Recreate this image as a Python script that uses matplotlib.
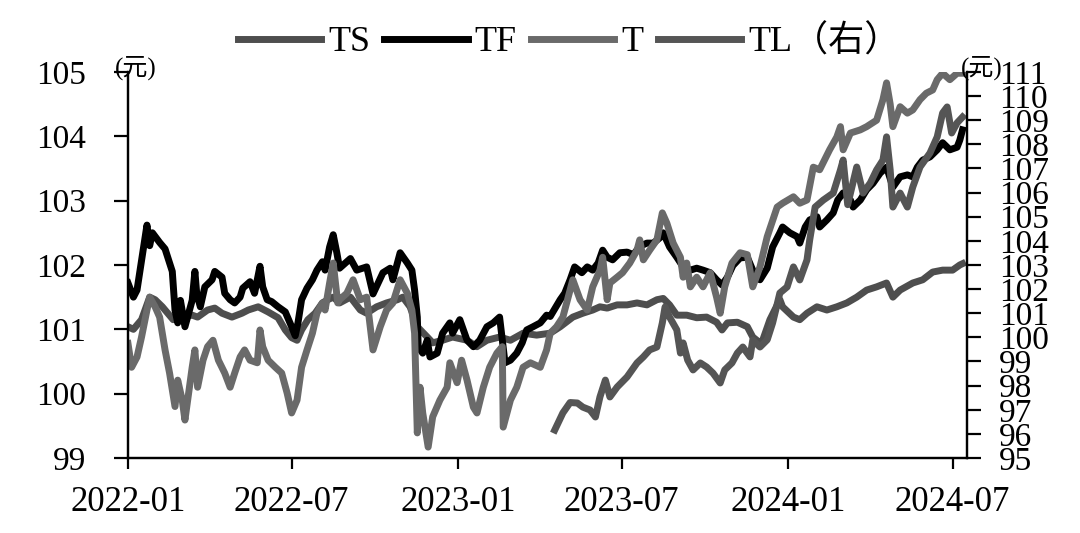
import matplotlib
matplotlib.use('Agg')
import matplotlib.pyplot as plt
import matplotlib.dates as mdates
import pandas as pd

plt.rcParams['font.family'] = ['Liberation Serif', 'Noto Sans CJK SC']

# TS (2-year), left axis
ts_dates = ['2022-01-01', '2022-01-07', '2022-01-16', '2022-01-25', '2022-01-31', '2022-02-08', '2022-02-14',
            '2022-02-20', '2022-03-02', '2022-03-13', '2022-03-19', '2022-03-30', '2022-04-07', '2022-04-15',
            '2022-04-26', '2022-05-07', '2022-05-14', '2022-05-25', '2022-06-05', '2022-06-16', '2022-06-24',
            '2022-07-01', '2022-07-07', '2022-07-12', '2022-07-19', '2022-07-27', '2022-08-04', '2022-08-10',
            '2022-08-16', '2022-08-23', '2022-09-04', '2022-09-15', '2022-09-22', '2022-10-03', '2022-10-14',
            '2022-10-26', '2022-11-01', '2022-11-09', '2022-11-17', '2022-11-28', '2022-12-04', '2022-12-15',
            '2022-12-26', '2023-01-11', '2023-01-22', '2023-02-02', '2023-02-16', '2023-02-28', '2023-03-14',
            '2023-03-29', '2023-04-13', '2023-04-24', '2023-05-08', '2023-05-19', '2023-05-30', '2023-06-07',
            '2023-06-15', '2023-06-26', '2023-07-07', '2023-07-18', '2023-07-29', '2023-08-09', '2023-08-16',
            '2023-08-23', '2023-08-31', '2023-09-11', '2023-09-22', '2023-10-03', '2023-10-14', '2023-10-20',
            '2023-10-26', '2023-11-06', '2023-11-17', '2023-11-23', '2023-12-01', '2023-12-04', '2023-12-12',
            '2023-12-23', '2023-12-26', '2024-01-07', '2024-01-14', '2024-01-22', '2024-02-02', '2024-02-13',
            '2024-02-24', '2024-03-06', '2024-03-17', '2024-03-28', '2024-04-08', '2024-04-19', '2024-04-26',
            '2024-05-04', '2024-05-18', '2024-05-29', '2024-06-09', '2024-06-20', '2024-07-01', '2024-07-09',
            '2024-07-12']
ts_vals = [101.04, 101.00, 101.15, 101.50, 101.46, 101.35, 101.25,
           101.15, 101.19, 101.22, 101.19, 101.30, 101.33, 101.25,
           101.19, 101.25, 101.30, 101.35, 101.27, 101.18, 100.99,
           100.87, 100.83, 100.99, 101.15, 101.25, 101.41, 101.46,
           101.50, 101.41, 101.50, 101.30, 101.25, 101.35, 101.41,
           101.46, 101.50, 101.35, 101.04, 100.88, 100.79, 100.83,
           100.88, 100.83, 100.73, 100.83, 100.88, 100.83, 100.94,
           100.91, 100.94, 101.04, 101.19, 101.25, 101.30, 101.35,
           101.33, 101.38, 101.38, 101.41, 101.38, 101.46, 101.48,
           101.38, 101.22, 101.22, 101.18, 101.19, 101.11, 100.99,
           101.10, 101.11, 101.04, 100.88, 100.79, 100.83, 101.15,
           101.46, 101.35, 101.19, 101.15, 101.25, 101.35, 101.30,
           101.35, 101.41, 101.50, 101.61, 101.66, 101.72, 101.50,
           101.61, 101.72, 101.77, 101.89, 101.92, 101.92, 102.00,
           102.02]

# TF (5-year), left axis
tf_dates = ['2022-01-01', '2022-01-07', '2022-01-11', '2022-01-20', '2022-01-22', '2022-01-25', '2022-01-28',
            '2022-02-05', '2022-02-11', '2022-02-19', '2022-02-22', '2022-02-25', '2022-02-28', '2022-03-05',
            '2022-03-13', '2022-03-16', '2022-03-18', '2022-03-22', '2022-03-27', '2022-04-04', '2022-04-07',
            '2022-04-15', '2022-04-18', '2022-04-24', '2022-04-29', '2022-05-05', '2022-05-08', '2022-05-16',
            '2022-05-21', '2022-05-27', '2022-05-30', '2022-06-04', '2022-06-09', '2022-06-16', '2022-06-24',
            '2022-07-01', '2022-07-05', '2022-07-08', '2022-07-12', '2022-07-18', '2022-07-24', '2022-07-29',
            '2022-08-04', '2022-08-07', '2022-08-12', '2022-08-16', '2022-08-20', '2022-08-23', '2022-09-04',
            '2022-09-11', '2022-09-22', '2022-09-29', '2022-10-10', '2022-10-18', '2022-10-21', '2022-10-29',
            '2022-11-06', '2022-11-11', '2022-11-14', '2022-11-17', '2022-11-18', '2022-11-23', '2022-11-28',
            '2022-12-01', '2022-12-09', '2022-12-15', '2022-12-23', '2022-12-26', '2023-01-03', '2023-01-11',
            '2023-01-18', '2023-01-25', '2023-02-02', '2023-02-09', '2023-02-16', '2023-02-19', '2023-02-22',
            '2023-02-28', '2023-03-07', '2023-03-13', '2023-03-18', '2023-03-25', '2023-04-02', '2023-04-09',
            '2023-04-13', '2023-04-24', '2023-04-29', '2023-05-05', '2023-05-10', '2023-05-18', '2023-05-24',
            '2023-05-30', '2023-06-05', '2023-06-10', '2023-06-15', '2023-06-21', '2023-06-29', '2023-07-07',
            '2023-07-14', '2023-07-21', '2023-07-29', '2023-08-05', '2023-08-12', '2023-08-16', '2023-08-23',
            '2023-08-31', '2023-09-07', '2023-09-15', '2023-09-22', '2023-09-29', '2023-10-07', '2023-10-14',
            '2023-10-20', '2023-10-26', '2023-11-01', '2023-11-09', '2023-11-17', '2023-11-23', '2023-12-01',
            '2023-12-09', '2023-12-15', '2023-12-23', '2023-12-26', '2024-01-03', '2024-01-11', '2024-01-14',
            '2024-01-20', '2024-01-25', '2024-02-02', '2024-02-05', '2024-02-13', '2024-02-20', '2024-02-25',
            '2024-03-02', '2024-03-10', '2024-03-13', '2024-03-21', '2024-03-28', '2024-04-04', '2024-04-12',
            '2024-04-19', '2024-04-26', '2024-05-04', '2024-05-12', '2024-05-18', '2024-05-23', '2024-05-29',
            '2024-06-06', '2024-06-14', '2024-06-20', '2024-06-28', '2024-07-06', '2024-07-09', '2024-07-12']
tf_vals = [101.72, 101.50, 101.61, 102.44, 102.62, 102.30, 102.50,
           102.35, 102.25, 101.90, 101.30, 101.10, 101.45, 101.04,
           101.45, 101.90, 101.56, 101.35, 101.66, 101.77, 101.90,
           101.81, 101.56, 101.46, 101.41, 101.50, 101.64, 101.74,
           101.56, 101.98, 101.66, 101.46, 101.43, 101.35, 101.27,
           101.04, 100.90, 101.10, 101.46, 101.64, 101.77, 101.92,
           102.05, 101.92, 102.28, 102.47, 102.19, 101.95, 102.10,
           101.92, 101.97, 101.55, 101.88, 101.95, 101.77, 102.19,
           102.03, 101.92, 101.61, 101.19, 100.73, 100.63, 100.83,
           100.57, 100.63, 100.94, 101.10, 100.94, 101.15, 100.83,
           100.73, 100.83, 101.04, 101.10, 101.19, 100.83, 100.48,
           100.52, 100.63, 100.79, 100.99, 101.04, 101.10, 101.22,
           101.20, 101.46, 101.56, 101.77, 101.97, 101.88, 101.97,
           101.92, 102.03, 102.23, 102.12, 102.08, 102.19, 102.20,
           102.16, 102.29, 102.34, 102.34, 102.42, 102.50, 102.28,
           102.12, 101.97, 101.92, 101.95, 101.92, 101.88, 101.77,
           101.69, 101.81, 101.99, 102.11, 102.12, 101.92, 101.77,
           101.95, 102.28, 102.50, 102.59, 102.50, 102.44, 102.34,
           102.59, 102.70, 102.75, 102.59, 102.70, 102.81, 103.01,
           103.12, 103.01, 102.90, 103.01, 103.17, 103.27, 103.43,
           103.52, 103.21, 103.37, 103.40, 103.37, 103.52, 103.63,
           103.68, 103.79, 103.90, 103.79, 103.83, 103.94, 104.10]

# T (10-year), left axis
t_dates = ['2022-01-01', '2022-01-05', '2022-01-11', '2022-01-16', '2022-01-22', '2022-01-25', '2022-01-31',
           '2022-02-05', '2022-02-11', '2022-02-16', '2022-02-22', '2022-02-25', '2022-03-02', '2022-03-05',
           '2022-03-08', '2022-03-13', '2022-03-16', '2022-03-19', '2022-03-25', '2022-03-30', '2022-04-05',
           '2022-04-11', '2022-04-18', '2022-04-24', '2022-04-29', '2022-05-05', '2022-05-10', '2022-05-16',
           '2022-05-24', '2022-05-27', '2022-05-30', '2022-06-05', '2022-06-13', '2022-06-20', '2022-06-26',
           '2022-07-01', '2022-07-07', '2022-07-12', '2022-07-18', '2022-07-24', '2022-07-29', '2022-08-04',
           '2022-08-07', '2022-08-12', '2022-08-16', '2022-08-21', '2022-08-23', '2022-08-31', '2022-09-07',
           '2022-09-15', '2022-09-22', '2022-09-29', '2022-10-07', '2022-10-14', '2022-10-21', '2022-10-29',
           '2022-11-06', '2022-11-11', '2022-11-14', '2022-11-17', '2022-11-20', '2022-11-23', '2022-11-29',
           '2022-12-04', '2022-12-12', '2022-12-20', '2022-12-23', '2022-12-31', '2023-01-05', '2023-01-11',
           '2023-01-18', '2023-01-22', '2023-01-29', '2023-02-05', '2023-02-13', '2023-02-19', '2023-02-20',
           '2023-02-28', '2023-03-07', '2023-03-14', '2023-03-22', '2023-04-02', '2023-04-09', '2023-04-13',
           '2023-04-20', '2023-04-27', '2023-05-05', '2023-05-08', '2023-05-16', '2023-05-24', '2023-05-30',
           '2023-06-07', '2023-06-10', '2023-06-15', '2023-06-18', '2023-06-26', '2023-07-02', '2023-07-10',
           '2023-07-18', '2023-07-21', '2023-07-25', '2023-08-01', '2023-08-09', '2023-08-15', '2023-08-20',
           '2023-08-27', '2023-09-04', '2023-09-07', '2023-09-11', '2023-09-15', '2023-09-22', '2023-09-29',
           '2023-10-07', '2023-10-14', '2023-10-18', '2023-10-23', '2023-10-31', '2023-11-09', '2023-11-17',
           '2023-11-23', '2023-12-01', '2023-12-09', '2023-12-20', '2023-12-26', '2024-01-07', '2024-01-14',
           '2024-01-22', '2024-01-29', '2024-02-05', '2024-02-16', '2024-02-24', '2024-02-28', '2024-03-02',
           '2024-03-10', '2024-03-21', '2024-03-28', '2024-04-08', '2024-04-15', '2024-04-19', '2024-04-23',
           '2024-04-26', '2024-05-04', '2024-05-12', '2024-05-18', '2024-05-26', '2024-06-02', '2024-06-09',
           '2024-06-14', '2024-06-20', '2024-06-28', '2024-07-06', '2024-07-12']
t_vals = [100.78, 100.41, 100.57, 100.88, 101.30, 101.50, 101.35,
          101.19, 100.68, 100.32, 99.80, 100.21, 99.90, 99.59,
          99.90, 100.41, 100.68, 100.10, 100.52, 100.73, 100.83,
          100.52, 100.32, 100.10, 100.32, 100.57, 100.68, 100.52,
          100.48, 100.99, 100.73, 100.52, 100.41, 100.32, 100.01,
          99.70, 99.90, 100.41, 100.68, 100.94, 101.25, 101.41,
          101.30, 101.72, 102.03, 101.41, 101.46, 101.56, 101.77,
          101.46, 101.50, 100.68, 101.04, 101.30, 101.41, 101.77,
          101.56, 101.30, 100.94, 99.39, 100.10, 99.70, 99.17,
          99.64, 99.90, 100.10, 100.48, 100.17, 100.52, 100.21,
          99.79, 99.70, 100.10, 100.41, 100.63, 100.73, 99.48,
          99.90, 100.10, 100.41, 100.48, 100.41, 100.68, 100.94,
          101.04, 101.19, 101.61, 101.77, 101.46, 101.30, 101.66,
          101.92, 102.12, 101.46, 101.72, 101.81, 101.88, 102.03,
          102.23, 102.39, 102.08, 102.23, 102.39, 102.81, 102.65,
          102.34, 102.12, 101.81, 102.03, 101.66, 101.81, 101.66,
          101.88, 101.50, 101.25, 101.66, 102.03, 102.19, 102.16,
          101.66, 101.97, 102.44, 102.90, 102.96, 103.06, 102.96,
          103.01, 103.52, 103.48, 103.79, 103.99, 104.15, 103.79,
          104.05, 104.10, 104.15, 104.25, 104.57, 104.83, 104.50,
          104.15, 104.46, 104.36, 104.41, 104.57, 104.67, 104.72,
          104.88, 104.98, 104.88, 104.98, 104.98]

# TL (30-year), right axis
tl_dates = ['2023-04-18', '2023-04-27', '2023-05-05', '2023-05-13', '2023-05-19', '2023-05-27', '2023-06-02',
            '2023-06-07', '2023-06-13', '2023-06-18', '2023-06-26', '2023-07-07', '2023-07-18', '2023-07-25',
            '2023-08-01', '2023-08-09', '2023-08-15', '2023-08-18', '2023-08-23', '2023-08-31', '2023-09-04',
            '2023-09-07', '2023-09-12', '2023-09-18', '2023-09-26', '2023-10-03', '2023-10-10', '2023-10-18',
            '2023-10-23', '2023-10-31', '2023-11-06', '2023-11-12', '2023-11-20', '2023-11-23', '2023-12-01',
            '2023-12-09', '2023-12-15', '2023-12-23', '2023-12-31', '2024-01-07', '2024-01-14', '2024-01-22',
            '2024-01-25', '2024-01-31', '2024-02-09', '2024-02-20', '2024-02-28', '2024-03-02', '2024-03-07',
            '2024-03-17', '2024-03-24', '2024-04-01', '2024-04-08', '2024-04-15', '2024-04-19', '2024-04-23',
            '2024-04-26', '2024-05-04', '2024-05-12', '2024-05-18', '2024-05-26', '2024-06-06', '2024-06-14',
            '2024-06-20', '2024-06-25', '2024-06-30', '2024-07-06', '2024-07-12']
tl_vals = [96.16, 96.87, 97.30, 97.28, 97.11, 96.99, 96.70,
           97.53, 98.23, 97.53, 97.94, 98.36, 98.94, 99.19,
           99.48, 99.60, 100.60, 101.26, 100.84, 100.31, 99.35,
           99.77, 99.06, 98.65, 98.94, 98.77, 98.52, 98.11,
           98.65, 98.94, 99.35, 99.60, 99.19, 99.89, 99.60,
           99.90, 100.60, 101.84, 102.09, 102.92, 102.38, 103.21,
           104.04, 105.40, 105.69, 105.98, 106.94, 107.35, 105.50,
           107.06, 105.98, 106.40, 106.94, 107.35, 108.31, 106.94,
           105.40, 105.98, 105.40, 106.23, 107.06, 107.64, 108.31,
           109.30, 109.55, 108.47, 108.89, 109.13]

x_ticks = ['2022-01-01', '2022-07-01', '2023-01-01', '2023-07-01', '2024-01-01', '2024-07-01']

fig = plt.figure(figsize=(10.8, 5.33), dpi=100)
ax = fig.add_axes([0.1185, 0.1407, 0.7769, 0.7243])
ax2 = ax.twinx()

lw = 5.0
l1, = ax.plot(pd.to_datetime(ts_dates), ts_vals, color='#4e4e4e', lw=lw, label='TS', solid_joinstyle='round')
l2, = ax.plot(pd.to_datetime(tf_dates), tf_vals, color='#000000', lw=lw, label='TF', solid_joinstyle='round')
l3, = ax.plot(pd.to_datetime(t_dates), t_vals, color='#6a6a6a', lw=lw, label='T', solid_joinstyle='round')
l4, = ax2.plot(pd.to_datetime(tl_dates), tl_vals, color='#555555', lw=lw, label='TL（右）', solid_joinstyle='round')

ax.set_xlim(pd.Timestamp('2022-01-01'), pd.Timestamp('2024-07-17'))
ax.set_ylim(99, 105)
ax2.set_ylim(95, 111)
ax.set_yticks(range(99, 106))
ax2.set_yticks(range(95, 112))
ax.set_xticks(pd.to_datetime(x_ticks))
ax.xaxis.set_major_formatter(mdates.DateFormatter('%Y-%m'))

for a in (ax, ax2):
    a.spines['top'].set_visible(False)
    for s in ('left', 'right', 'bottom'):
        a.spines[s].set_linewidth(1.6)
ax.tick_params(axis='y', direction='out', length=10, width=1.6, labelsize=24, pad=20)
ax.tick_params(axis='x', direction='out', length=8, width=1.6, labelsize=25, pad=12)
ax2.tick_params(axis='y', direction='out', length=10, width=1.6, labelsize=24, pad=13)

fig.text(0.106, 0.872, '(元)', fontsize=18, ha='left', va='center')
fig.text(0.890, 0.872, '(元)', fontsize=18, ha='left', va='center')

fig.legend(handles=[l1, l2, l3, l4], loc='center', bbox_to_anchor=(0.527, 0.921), ncol=4,
           frameon=False, fontsize=26, handlelength=2.3, handletextpad=0.2, columnspacing=0.4)

fig.savefig('out.png', dpi=100)
